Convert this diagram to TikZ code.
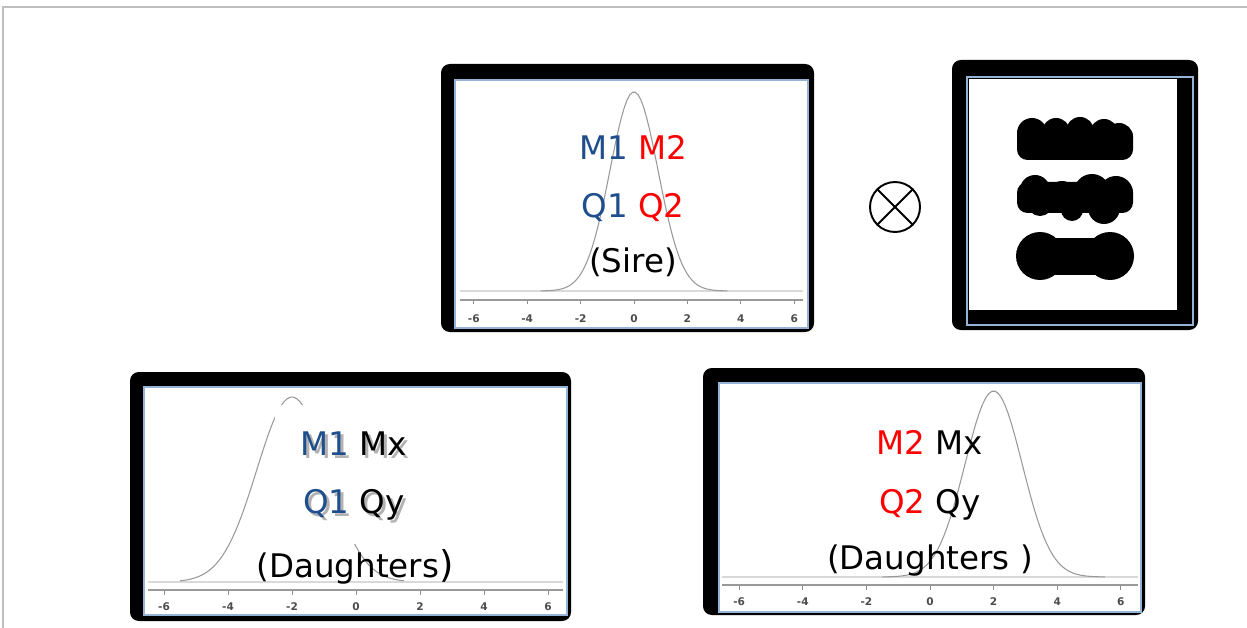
\documentclass[tikz,border=0pt]{standalone}
\usepackage{fontspec}
\setmainfont{DejaVu Sans}
\usetikzlibrary{positioning}
\definecolor{mblue}{HTML}{1F4E8C}
\definecolor{mred}{HTML}{FF0000}
\definecolor{frameblue}{HTML}{95B3D7}
\tikzset{
  backbox/.style={fill=black, rounded corners=5pt},
  plotframe/.style={draw=frameblue, line width=0.9pt, fill=white},
  curve/.style={draw=black!40, line width=0.6pt},
  zeroline/.style={draw=black!15, line width=0.7pt},
  axisline/.style={draw=black!40, line width=0.9pt},
  tickmark/.style={draw=black!45, line width=0.5pt},
  ticklabel/.style={font=\fontsize{6}{6}\selectfont\bfseries, text=black!70, inner sep=0pt},
  gene/.style={font=\fontsize{18.5}{20}\selectfont, inner sep=0pt, anchor=base},
  geneshadow/.style={gene, text=black!30},
}
\begin{document}
\begin{tikzpicture}[x=0.02cm, y=-0.02cm]
\useasboundingbox (0,0) rectangle (1247,628);
\draw[black!25, line width=0.8pt] (3,628) -- (3,7) -- (1247,7);

% sire
\fill[backbox] (441,64) rectangle (814,332);
\draw[plotframe] (455,80) rectangle (808,328);
\draw[zeroline] (460,291) -- (803,291);
\draw[curve] plot[domain=-3.5:3.5, samples=70] ({634+26.7*\x},{291-199*exp(-pow(\x,2)/1.62)});
\draw[axisline] (460,300) -- (803,300);
\foreach \t in {-6,-4,...,6} {
  \draw[tickmark] ({634+26.7*\t},301) -- ++(0,3);
  \node[ticklabel] at ({634+26.7*\t},319) {\t};
}
\node[gene] (sireM) at (633,160) {\color{mblue}M1 \color{mred}M2};
\node[gene] (sireQ) at (633,217) {\color{mblue}Q1 \color{mred}Q2};
\node[gene] (sireTag) at (633,273) {(Sire)};

% times
\node[draw, circle, line width=1.1pt, minimum size=1cm, inner sep=0pt] (cross) at (895,207) {};
\draw[line width=1.1pt] (cross.north west) -- (cross.south east);
\draw[line width=1.1pt] (cross.north east) -- (cross.south west);

% dams
\fill[backbox] (952,60) rectangle (1198,330);
\draw[frameblue, line width=0.9pt, fill=black] (967,77) rectangle (1193,325);
\fill[white] (969,79) rectangle (1177,310);
\fill[rounded corners=6pt] (1017,126) rectangle (1133,160);
\foreach \cx/\cy/\r in {1032/133/15,1056/132/14,1080/131/14,1104/133/14,1119/137/14}
  \fill (\cx,\cy) circle[radius=\r];
\fill[rounded corners=6pt] (1017,182) rectangle (1133,213);
\foreach \cx/\cy/\r in {1035/190/15,1062/195/14,1092/192/18,1116/193/17,1040/203/13,1072/210/11,1104/208/16}
  \fill (\cx,\cy) circle[radius=\r];
\fill (1040,238) rectangle (1110,275);
\fill (1040,256) circle[radius=24];
\fill (1110,256) circle[radius=24];

% daughters, left
\fill[backbox] (130,372) rectangle (571,621);
\draw[plotframe] (144,387) rectangle (567,615);
\draw[zeroline] (148,582) -- (563,582);
\draw[curve] plot[domain=-5.5:1.5, samples=70] ({356+32*\x},{582-185*exp(-pow(\x+2,2)/2.42)});
\fill[white] (275,405) rectangle (460,544);
\draw[axisline] (148,590) -- (563,590);
\foreach \t in {-6,-4,...,6} {
  \draw[tickmark] ({356+32*\t},591) -- ++(0,4);
  \node[ticklabel] at ({356+32*\t},607) {\t};
}
\node[geneshadow] at (357,458) {M1 Mx};
\node[geneshadow] at (357,516) {Q1 Qy};
\node[gene] (leftM) at (354,455) {\color{mblue}M1 \color{black}Mx};
\node[gene] (leftQ) at (354,513) {\color{mblue}Q1 \color{black}Qy};
\node[gene] (leftTag) at (355,577) {(Daughters\fontsize{21}{21}\selectfont)};

% daughters, right
\fill[backbox] (703,368) rectangle (1145,615);
\draw[plotframe] (719,383) rectangle (1141,612);
\draw[zeroline] (722,577) -- (1138,577);
\draw[curve] plot[domain=-1.5:5.5, samples=70] ({930+31.8*\x},{577-186*exp(-pow(\x-2,2)/1.62)});
\draw[axisline] (722,585) -- (1138,585);
\foreach \t in {-6,-4,...,6} {
  \draw[tickmark] ({930+31.8*\t},586) -- ++(0,4);
  \node[ticklabel] at ({930+31.8*\t},602) {\t};
}
\node[gene] (rightM) at (930,454) {\color{mred}M2 \color{black}Mx};
\node[gene] (rightQ) at (930,513) {\color{mred}Q2 \color{black}Qy};
\node[gene] (rightTag) at (930,569) {(Daughters )};
\end{tikzpicture}
\end{document}
